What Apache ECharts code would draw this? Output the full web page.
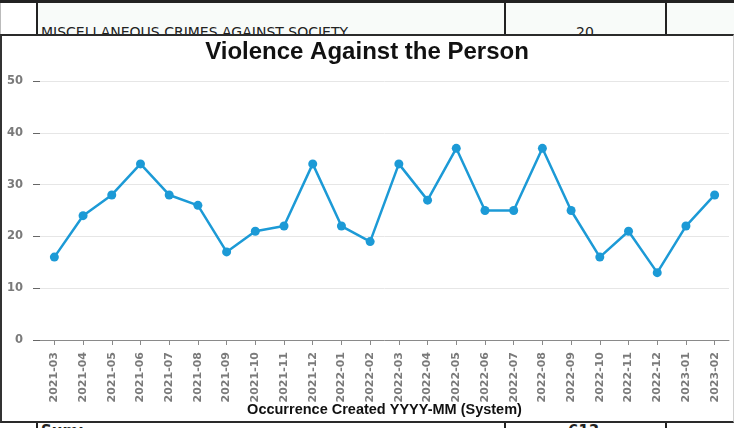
<!DOCTYPE html>
<html>
<head>
<meta charset="utf-8">
<script src="https://cdn.jsdelivr.net/npm/echarts@6/dist/echarts.min.js"></script>
<style>
  html, body { margin: 0; padding: 0; width: 734px; height: 428px; overflow: hidden; background: #fff; }
  #page { position: relative; width: 734px; height: 428px; overflow: hidden; }
  .abs { position: absolute; }
  .cell { background: #f8fbf9; }
  .vline { background: #222; width: 2px; }
  .txt { font-family: 'DejaVu Sans', sans-serif; color: #222; line-height: 1; white-space: nowrap; }
</style>
</head>
<body>
<div id="page">
<!-- background report table (top row) -->
<div class="abs" style="left:0;top:0;width:734px;height:3px;background:#222;"></div>
<div class="abs" style="left:0;top:3px;width:1px;height:31px;background:#bbb;"></div>
<div class="abs cell" style="left:38px;top:3px;width:696px;height:31px;"></div>
<div class="abs vline" style="left:36px;top:3px;height:31px;"></div>
<div class="abs vline" style="left:504px;top:3px;height:31px;"></div>
<div class="abs vline" style="left:665px;top:3px;height:31px;"></div>
<div class="abs txt" style="left:41px;top:25px;font-size:14px;">MISCELLANEOUS CRIMES AGAINST SOCIETY</div>
<div class="abs txt" style="left:576px;top:25px;font-size:14px;">20</div>
<!-- bottom row (clipped) -->
<div class="abs" style="left:0;top:422px;width:734px;height:6px;overflow:hidden;">
  <div class="abs vline" style="left:36px;top:0;height:6px;"></div>
  <div class="abs vline" style="left:504px;top:0;height:6px;"></div>
  <div class="abs vline" style="left:665px;top:0;height:6px;"></div>
  <div class="abs txt" style="left:41px;top:2px;font-size:15px;font-weight:bold;">Sum:</div>
  <div class="abs txt" style="left:568px;top:2px;font-size:15px;font-weight:bold;">613</div>
</div>
<!-- chart box -->
<div class="abs" style="left:0;top:34px;width:731px;height:385px;background:#fff;border-top:2px solid #2a2a2a;border-left:2px solid #333;border-bottom:2px solid #2a2a2a;border-right:1px solid #d0d0d0;box-sizing:content-box;z-index:2;"></div>
<div id="chart" class="abs" style="left:0;top:0;width:734px;height:428px;z-index:3;"></div>
</div>
<script>
var months = ['2021-03','2021-04','2021-05','2021-06','2021-07','2021-08','2021-09','2021-10','2021-11','2021-12',
              '2022-01','2022-02','2022-03','2022-04','2022-05','2022-06','2022-07','2022-08','2022-09','2022-10',
              '2022-11','2022-12','2023-01','2023-02'];
var counts = [16,24,28,34,28,26,17,21,22,34,22,19,34,27,37,25,25,37,25,16,21,13,22,28];
var chartTitle = 'Violence Against the Person';
var xAxisName = 'Occurrence Created YYYY-MM (System)';

var chart = echarts.init(document.getElementById('chart'), null, { renderer: 'canvas' });
chart.setOption({
  animation: false,
  backgroundColor: 'transparent',
  title: {
    text: chartTitle,
    left: 'center',
    top: 35,
    textStyle: { fontFamily: 'Liberation Sans, Arial, sans-serif', fontSize: 24, fontWeight: 'bold', color: '#111' }
  },
  grid: { left: 40, right: 5, top: 81, bottom: 88, containLabel: false },
  xAxis: {
    type: 'category',
    data: months,
    boundaryGap: true,
    name: xAxisName,
    nameLocation: 'middle',
    nameGap: 62,
    nameMoveOverlap: false,
    nameTextStyle: { fontFamily: 'Liberation Sans, Arial, sans-serif', fontSize: 14.5, fontWeight: 'bold', color: '#111' },
    axisLine: { show: true, lineStyle: { color: '#8a8a8a', width: 1 } },
    axisTick: { show: true, alignWithLabel: true, length: 5, lineStyle: { color: '#8a8a8a' } },
    axisLabel: { rotate: 90, margin: 12, interval: 0, fontFamily: 'DejaVu Sans, sans-serif', fontSize: 11, fontWeight: 'bold', color: '#7a7a7a' },
    splitLine: { show: false }
  },
  yAxis: {
    type: 'value',
    min: 0, max: 50, interval: 10,
    axisLine: { show: false },
    axisTick: { show: true, length: 7, lineStyle: { color: '#666' } },
    axisLabel: { margin: 17, fontFamily: 'DejaVu Sans, sans-serif', fontSize: 11.5, fontWeight: 'bold', color: '#7a7a7a' },
    splitLine: { show: true, lineStyle: { color: '#e6e6e6', width: 1 } }
  },
  series: [{
    type: 'line',
    data: counts,
    symbol: 'circle',
    symbolSize: 9,
    showSymbol: true,
    lineStyle: { color: '#1c9ad6', width: 2.5 },
    itemStyle: { color: '#1c9ad6' }
  }]
});
</script>
</body>
</html>
